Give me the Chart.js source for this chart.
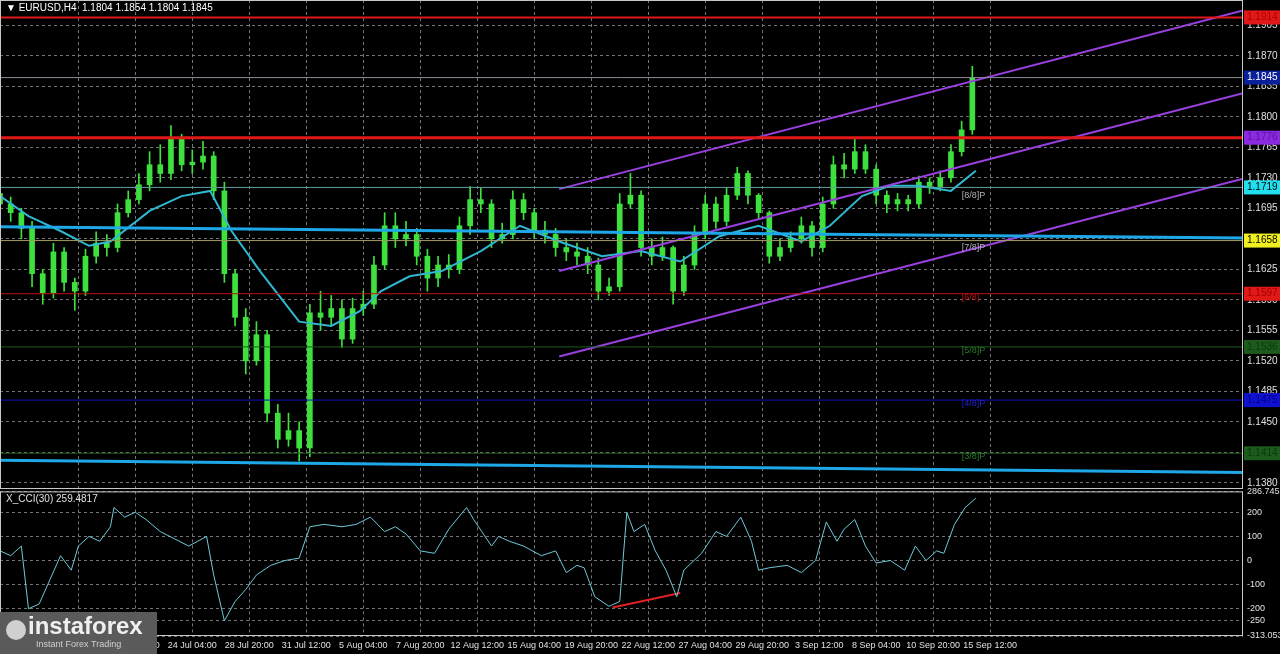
<!DOCTYPE html>
<html><head><meta charset="utf-8">
<script src="https://cdn.jsdelivr.net/npm/chart.js@4/dist/chart.umd.min.js"></script>
<style>
html,body{margin:0;padding:0;background:#000;width:1280px;height:654px;overflow:hidden}
#w1{position:absolute;left:0;top:-10px;width:1280px;height:509px}
#w2{position:absolute;left:0;top:482px;width:1280px;height:172px}
</style></head><body>
<div id="w1"><canvas id="c1"></canvas></div>
<div id="w2"><canvas id="c2"></canvas></div>
<script>
// ---- data ----
const closes=[1.1700,1.1690,1.1672,1.1620,1.1598,1.1645,1.1610,1.1600,1.1640,1.1655,1.1650,1.1690,1.1705,1.1722,1.1745,1.1735,1.1775,1.1745,1.1748,1.1755,1.1715,1.1620,1.1570,1.1520,1.1550,1.1460,1.1430,1.1440,1.1420,1.1575,1.1570,1.1580,1.1545,1.1580,1.1585,1.1630,1.1675,1.1660,1.1665,1.1640,1.1615,1.1630,1.1625,1.1675,1.1705,1.1700,1.1660,1.1665,1.1705,1.1690,1.1670,1.1665,1.1650,1.1645,1.1640,1.1630,1.1600,1.1605,1.1700,1.1710,1.1650,1.1640,1.1650,1.1600,1.1630,1.1665,1.1700,1.1680,1.1710,1.1735,1.1710,1.1690,1.1640,1.1650,1.1660,1.1675,1.1650,1.1700,1.1745,1.1740,1.1760,1.1740,1.1710,1.1700,1.1705,1.1700,1.1725,1.1720,1.1730,1.1760,1.1785,1.1845];
const highs=[1.1712,1.1708,1.1695,1.1680,1.1625,1.1655,1.1650,1.1615,1.1648,1.1668,1.1665,1.1700,1.1715,1.1735,1.1760,1.1768,1.1790,1.1780,1.1762,1.1772,1.1760,1.1725,1.1625,1.1580,1.1565,1.1555,1.1470,1.1460,1.1450,1.1585,1.1600,1.1595,1.1590,1.1592,1.1600,1.1640,1.1690,1.1690,1.1680,1.1672,1.1648,1.1640,1.1642,1.1685,1.1720,1.1718,1.1705,1.1678,1.1715,1.1712,1.1695,1.1680,1.1672,1.1660,1.1655,1.1650,1.1638,1.1615,1.1712,1.1735,1.1715,1.1660,1.1662,1.1652,1.1640,1.1675,1.1710,1.1708,1.1718,1.1742,1.1738,1.1712,1.1692,1.1660,1.1668,1.1685,1.1680,1.1708,1.1755,1.1758,1.1775,1.1768,1.1745,1.1715,1.1712,1.1710,1.1732,1.1730,1.1738,1.1768,1.1795,1.1858];
const lows=[1.1690,1.1680,1.1660,1.1605,1.1585,1.1592,1.1600,1.1578,1.1595,1.1632,1.1640,1.1645,1.1685,1.1700,1.1715,1.1725,1.1728,1.1738,1.1735,1.1740,1.1705,1.1610,1.1560,1.1505,1.1515,1.1450,1.1420,1.1422,1.1405,1.1410,1.1555,1.1560,1.1535,1.1540,1.1572,1.1580,1.1625,1.1650,1.1652,1.1630,1.1600,1.1605,1.1615,1.1620,1.1665,1.1690,1.1650,1.1655,1.1660,1.1682,1.1660,1.1655,1.1640,1.1635,1.1630,1.1620,1.1590,1.1595,1.1600,1.1695,1.1640,1.1630,1.1635,1.1585,1.1595,1.1625,1.1660,1.1672,1.1675,1.1705,1.1700,1.1682,1.1632,1.1635,1.1645,1.1655,1.1640,1.1645,1.1695,1.1730,1.1735,1.1735,1.1700,1.1690,1.1692,1.1692,1.1695,1.1712,1.1715,1.1725,1.1755,1.1780];
const firstOpen=1.1712;
const candleBars=3; // H4 bars per drawn candle
const maIdx=[0,8,17,25,31,42,51,59,65,73,84,93,101,107,115,124,135,146,157,169,180,191,202,213,225,233,242,250,258,267,274];
const maVals=[1.1709,1.1686,1.1669,1.1652,1.1657,1.1692,1.1709,1.1715,1.1669,1.1623,1.1565,1.1560,1.1577,1.1600,1.1617,1.1623,1.1646,1.1675,1.1657,1.1640,1.1646,1.1634,1.1663,1.1675,1.1657,1.1675,1.1709,1.1721,1.1721,1.1715,1.1738];
const levels=[
 {v:1.1914,c:'#e01818',w:2,box:'#e01818',t:'#b00000'},
 {v:1.1845,c:'#8a8a9a',w:1,box:'#0a1f9a',t:'#ffffff'},
 {v:1.1776,c:'#e01818',w:3,box:'#8a2be2',t:'#6010a0'},
 {v:1.1719,c:'#5fa0a0',w:1,box:'#20e0f0',t:'#000000'},
 {v:1.1658,c:'#a09a60',w:1,box:'#f0f020',t:'#000000'},
 {v:1.1597,c:'#c01010',w:1,box:'#e01818',t:'#a00000'},
 {v:1.1536,c:'#1d5a1d',w:1,box:'#1d5a1d',t:'#0a3a0a'},
 {v:1.1475,c:'#1010c0',w:1,box:'#1010d0',t:'#000080'},
 {v:1.1414,c:'#1d5a1d',w:1,box:'#1d5a1d',t:'#0a3a0a'}];
const trendTop=[1.1674,1.1661], trendBot=[1.1406,1.1392];
const chanStart=157, chanEnd=349;
const chanUpper=[1.1717,1.1922], chanMid=[1.1623,1.1827], chanLower=[1.1525,1.1729];
const priceTicks=[1.1905,1.1870,1.1835,1.1800,1.1765,1.1730,1.1695,1.1660,1.1625,1.1590,1.1555,1.1520,1.1485,1.1450,1.1415,1.1380];
const dateIdx=[22,38,54,70,86,102,118,134,150,166,182,198,214,230,246,262,278];
const dateLabels=['17 Jul 20:00','21 Jul 12:00','24 Jul 04:00','28 Jul 20:00','31 Jul 12:00','5 Aug 04:00','7 Aug 20:00','12 Aug 12:00','15 Aug 04:00','19 Aug 20:00','22 Aug 12:00','27 Aug 04:00','29 Aug 20:00','3 Sep 12:00','8 Sep 04:00','10 Sep 20:00','15 Sep 12:00'];
const cciIdx=[0,3,6,8,11,14,17,20,22,25,28,31,32,35,38,41,45,49,53,58,60,63,66,69,72,76,80,84,87,91,96,100,104,108,111,114,118,122,126,131,133,138,140,143,147,152,156,159,162,164,167,171,174,176,178,181,184,187,190,192,197,201,204,208,211,213,216,221,225,229,232,235,237,240,243,246,250,254,257,260,263,265,268,271,274];
const cciVals=[40,20,60,-200,-180,-80,20,-40,60,100,80,140,220,180,200,170,120,90,60,100,-60,-250,-170,-120,-60,-20,0,10,140,150,140,150,180,120,140,110,40,30,130,220,170,60,100,80,60,20,40,-50,-20,-30,-150,-190,-170,200,120,150,40,-40,-150,-40,30,120,100,180,80,-40,-30,-20,-50,0,160,80,130,170,60,-10,0,-40,60,0,40,30,150,220,259];
const cciTicks=[286.7453,200,100,0,-100,-200,-250,-313.053];
const divIdx=[172,191], divVals=[-195,-135];
const XMAX=349;
// ---- build ----
const FONT={family:'Liberation Sans, Arial',size:10};
const grid={color:'#747474',drawTicks:false,offset:false};
const border={display:false,dash:[3,3]};
const opens=closes.map((c,i)=>i===0?firstOpen:closes[i-1]);
const wick=closes.map((c,i)=>({x:i*candleBars,y:[lows[i],highs[i]]}));
const body=closes.map((c,i)=>({x:i*candleBars,y:[opens[i],c]}));
const seg=(a,b,x0,x1)=>[{x:x0,y:a},{x:x1,y:b}];
const lineDs=(data,color,w)=>({type:'line',data,borderColor:color,borderWidth:w,pointRadius:0,tension:0,fill:false});
const ds=[];
levels.forEach(l=>ds.push(lineDs(seg(l.v,l.v,0,XMAX),l.c,l.w)));
ds.push(lineDs(seg(trendTop[0],trendTop[1],0,XMAX),'#1ea8e8',3));
ds.push(lineDs(seg(trendBot[0],trendBot[1],0,XMAX),'#1ea8e8',3));
ds.push(lineDs(seg(chanUpper[0],chanUpper[1],chanStart,chanEnd),'#9a40e0',2));
ds.push(lineDs(seg(chanMid[0],chanMid[1],chanStart,chanEnd),'#9a40e0',2));
ds.push(lineDs(seg(chanLower[0],chanLower[1],chanStart,chanEnd),'#9a40e0',2));
ds.push(lineDs(maIdx.map((x,i)=>({x,y:maVals[i]})),'#30b8d0',2));
ds.push({type:'bar',data:wick,backgroundColor:'#3ee03e',barThickness:1,grouped:false});
ds.push({type:'bar',data:body,backgroundColor:'#3ee03e',barThickness:5,grouped:false});
const xScale=(show)=>({type:'linear',min:0,max:XMAX,offset:false,grid,border,
  afterBuildTicks:s=>{s.ticks=dateIdx.map(v=>({value:v}));},
  ticks:{display:show,color:'#e0e0e0',font:{family:'Liberation Sans',size:9},maxRotation:0,autoSkip:false,padding:4,callback:(v,i)=>dateLabels[i]},
  afterFit:s=>{s.height=show?18:0;}});
const framePlugin={id:'frame',afterDraw(ch){const a=ch.chartArea,c=ch.ctx;c.save();c.strokeStyle='#c8c8c8';c.lineWidth=1;c.strokeRect(a.left+0.5,a.top+0.5,a.right-a.left-1,a.bottom-a.top-1);c.restore();}};
const labelsPlugin={id:'lbl',afterDraw(ch){const c=ch.ctx,y=ch.scales.y,a=ch.chartArea;c.save();c.font='10px Liberation Sans';c.textBaseline='middle';
 levels.forEach(l=>{const py=y.getPixelForValue(l.v);c.fillStyle=l.box;c.fillRect(a.right+1,py-7,36,14);c.fillStyle=l.t;c.fillText(l.v.toFixed(4),a.right+4,py);});
 c.fillStyle='#ffffff';c.fillText('▼ EURUSD,H4  1.1804 1.1854 1.1804 1.1845',6,a.top+8);
 c.fillStyle='#b0b0b0';c.font='9px Liberation Sans';
 const px=ch.scales.x.getPixelForValue(270);
 c.fillText('[8/8]P',px,y.getPixelForValue(1.1710));c.fillText('[7/8]P',px,y.getPixelForValue(1.1650));
 c.fillStyle='#c01010';c.fillText('[6/8]',px,y.getPixelForValue(1.1593));
 c.fillStyle='#2a7a2a';c.fillText('[5/8]P',px,y.getPixelForValue(1.1532));c.fillText('[3/8]P',px,y.getPixelForValue(1.1410));
 c.fillStyle='#2020d0';c.fillText('[4/8]P',px,y.getPixelForValue(1.1471));
 c.restore();}};
new Chart(document.getElementById('c1'),{type:'bar',data:{datasets:ds},
 options:{responsive:true,maintainAspectRatio:false,animation:false,layout:{padding:0},
  plugins:{legend:{display:false},tooltip:{enabled:false}},
  scales:{x:xScale(false),
   y:{position:'right',min:1.1373,max:1.1934,grid,border,
    afterBuildTicks:s=>{s.ticks=priceTicks.map(v=>({value:v}));},
    ticks:{color:'#e0e0e0',font:FONT,padding:4,callback:v=>v.toFixed(4)},afterFit:s=>{s.width=37;}}}},
 plugins:[framePlugin,labelsPlugin]});
const cciPlugin={id:'cci',afterDraw(ch){const c=ch.ctx,a=ch.chartArea;c.save();c.font='10px Liberation Sans';c.textBaseline='middle';
 c.fillStyle='#e0e0e0';c.fillText('X_CCI(30) 259.4817',6,a.top+8);
 c.fillStyle='#5a5a5a';c.fillRect(0,130,157,42);
 c.fillStyle='#f0f0f0';c.font='bold 24px Liberation Sans';c.fillText('instaforex',28,145);
 c.font='9px Liberation Sans';c.fillStyle='#d0d0d0';c.fillText('Instant Forex Trading',36,163);
 c.beginPath();c.arc(16,148,10,0,Math.PI*2);c.fillStyle='#d0d0d0';c.fill();
 c.restore();}};
new Chart(document.getElementById('c2'),{type:'line',data:{datasets:[
  lineDs(cciIdx.map((x,i)=>({x,y:cciVals[i]})),'#6ec8d8',1),
  lineDs(divIdx.map((x,i)=>({x,y:divVals[i]})),'#e02020',2)]},
 options:{responsive:true,maintainAspectRatio:false,animation:false,layout:{padding:{top:1}},
  plugins:{legend:{display:false},tooltip:{enabled:false}},
  scales:{x:xScale(true),
   y:{position:'right',min:-313.053,max:286.7453,grid,border,
    afterBuildTicks:s=>{s.ticks=cciTicks.map(v=>({value:v}));},
    ticks:{color:'#e0e0e0',font:{family:'Liberation Sans',size:9},padding:4,callback:v=>Number.isInteger(v)?String(v):v.toFixed(4)},afterFit:s=>{s.width=37;}}}},
 plugins:[framePlugin,cciPlugin]});
</script></body></html>
